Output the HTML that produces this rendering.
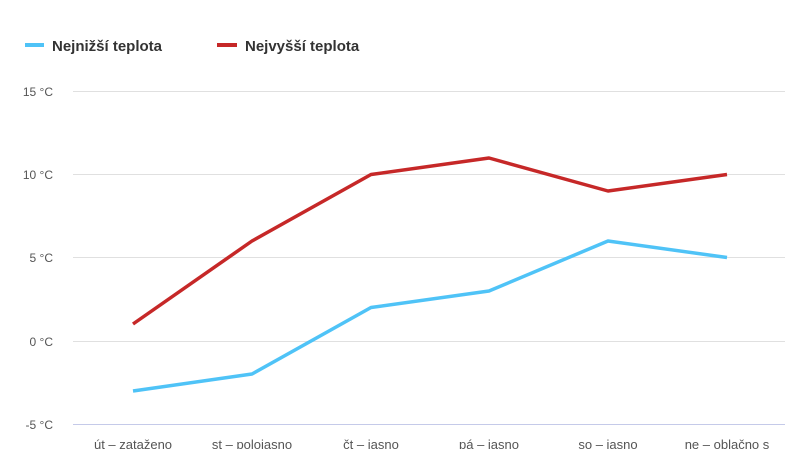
<!DOCTYPE html>
<html><head><style>
body{margin:0;background:#fff;width:800px;height:449px;overflow:hidden}
</style></head><body>
<svg width="800" height="449" xmlns="http://www.w3.org/2000/svg" font-family="Liberation Sans, DejaVu Sans, sans-serif">
<line x1="25" y1="45" x2="44" y2="45" stroke="#4fc3f7" stroke-width="4"/>
<text x="52" y="51" font-size="15" font-weight="bold" fill="#333">Nejnižší teplota</text>
<line x1="217" y1="45" x2="237" y2="45" stroke="#c62828" stroke-width="4"/>
<text x="245" y="51" font-size="15" font-weight="bold" fill="#333">Nejvyšší teplota</text>
<g stroke="#e0e0e0" stroke-width="1">
<line x1="73" y1="91.5" x2="785" y2="91.5"/>
<line x1="73" y1="174.5" x2="785" y2="174.5"/>
<line x1="73" y1="257.5" x2="785" y2="257.5"/>
<line x1="73" y1="341.5" x2="785" y2="341.5"/>
</g>
<line x1="73" y1="424.5" x2="785" y2="424.5" stroke="#c5cae9" stroke-width="1"/>
<g font-size="12" fill="#555" text-anchor="end">
<text x="53" y="96">15 °C</text>
<text x="53" y="179">10 °C</text>
<text x="53" y="262">5 °C</text>
<text x="53" y="346">0 °C</text>
<text x="53" y="429">-5 °C</text>
</g>
<g font-size="13" fill="#555" text-anchor="middle">
<text x="133" y="449">út – zataženo</text>
<text x="252" y="449">st – polojasno</text>
<text x="371" y="449">čt – jasno</text>
<text x="489" y="449">pá – jasno</text>
<text x="608" y="449">so – jasno</text>
<text x="727" y="449">ne – oblačno s</text>
</g>
<polyline fill="none" stroke="#c62828" stroke-width="3.5" stroke-linejoin="round" points="133,324 252,241 371,174.5 489,158 608,191 727,174.5"/>
<polyline fill="none" stroke="#4fc3f7" stroke-width="3.5" stroke-linejoin="round" points="133,391 252,374 371,307.5 489,291 608,241 727,257.5"/>
</svg>
</body></html>
